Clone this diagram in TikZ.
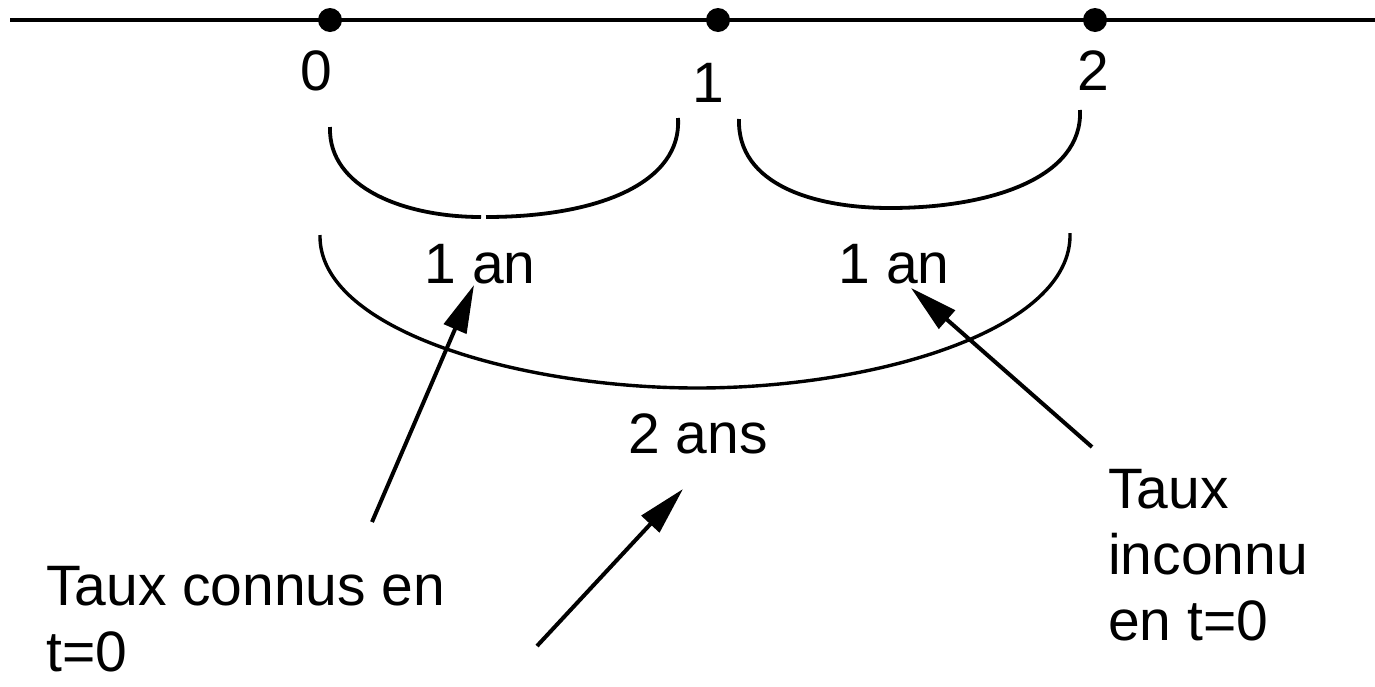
\documentclass[tikz,border=0pt]{standalone}
\usepackage{fontspec}
\setmainfont{Liberation Sans}
\usetikzlibrary{arrows.meta}
\tikzset{
  lbl/.style={inner sep=0pt, font=\fontsize{57}{66}\selectfont},
  axis/.style={line width=4pt},
  brace/.style={line width=3.8pt},
  bigbrace/.style={line width=3.4pt},
  dotmark/.style={circle, fill=black, inner sep=0pt, minimum size=24pt},
  arr/.style={line width=4pt, -{Triangle[length=48pt,width=24pt]}}
}
\begin{document}
\begin{tikzpicture}[x=1pt,y=-1pt]
\useasboundingbox (0,0) rectangle (1375,686);
% axis
\coordinate (axL) at (10,20);
\coordinate (axR) at (1375,20);
\draw[axis] (axL) -- (axR);
\node[dotmark] (d0) at (330,20) {};
\node[dotmark] (d1) at (718,20) {};
\node[dotmark] (d2) at (1095,20) {};
% tick labels
\node[lbl, anchor=base] (n0) at (316,90) {0};
\node[lbl, anchor=base] (n1) at (708,102) {1};
\node[lbl, anchor=base] (n2) at (1093,90) {2};
% small braces
\draw[brace] (330,127) .. controls (328,188) and (405,217) .. (481,217);
\draw[brace] (486,217) .. controls (600,217) and (682,182) .. (678,118);
\draw[brace] (739,119) .. controls (737,185) and (815,208) .. (890,208)
                       .. controls (990,208) and (1083,178) .. (1080,110);
% big brace
\draw[bigbrace] (320,235) .. controls (318,330) and (520,388) .. (697,388)
                .. controls (875,388) and (1073,330) .. (1070,233);
% labels
\node[lbl, anchor=base] (an1) at (480,283) {1 an};
\node[lbl, anchor=base] (an2) at (894,283) {1 an};
\node[lbl, anchor=base] (ans2) at (698,453) {2 ans};
\node[lbl, anchor=base west, align=left] (known) at (46,671) {Taux connus en\\t=0};
\node[lbl, anchor=base west, align=left] (unknown) at (1108,640) {Taux\\inconnu\\en t=0};
% arrows
\coordinate (t1) at (372,522);
\coordinate (h1) at (474,285);
\coordinate (t2) at (1092,447);
\coordinate (h2) at (911,288);
\coordinate (t3) at (537,646);
\coordinate (h3) at (683,489);
\draw[arr] (t1) -- (h1);
\draw[arr] (t2) -- (h2);
\draw[arr] (t3) -- (h3);
\end{tikzpicture}
\end{document}
